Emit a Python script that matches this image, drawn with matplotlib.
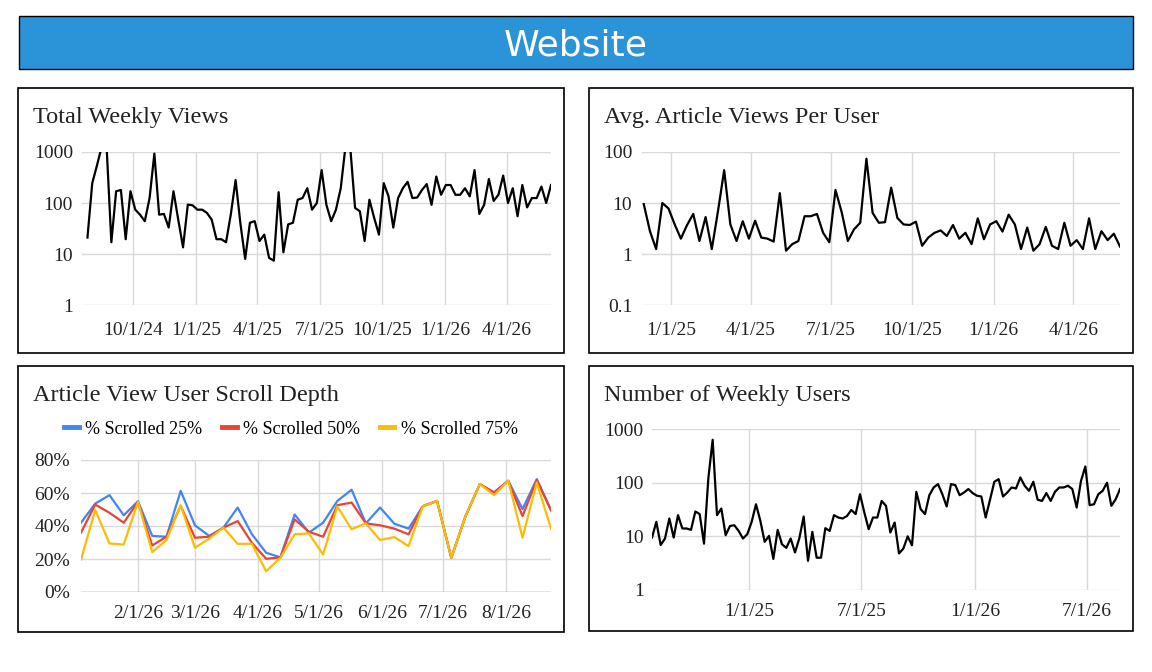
import pandas as pd
import matplotlib
matplotlib.use("Agg")
from matplotlib import pyplot as plt
from matplotlib.patches import Rectangle
from matplotlib.lines import Line2D

# weekly series
views = [21, 245, 550, 1300, 1300, 17, 170, 180, 19.5, 170, 74, 59, 44, 125, 930,
         59, 61, 33, 170, 47, 13.5, 93, 90, 74, 74, 64, 47, 19.5, 19.5, 17, 60,
         282, 40, 8, 41, 44, 18, 24, 8.4, 7.4, 163, 10.8, 38, 41, 116, 125, 195,
         74, 100, 442, 92, 44, 74, 195, 1300, 1200, 80, 69, 18, 116, 51, 24, 245,
         135, 33, 125, 195, 260, 125, 128, 180, 235, 92, 330, 145, 225, 225, 145,
         145, 195, 135, 442, 61, 92, 295, 110, 145, 345, 100, 195, 55, 225, 82,
         125, 125, 210, 100, 225]
views_start = "2024-07-26"

per_user = [9.5, 2.8, 1.25, 10, 7.8, 3.8, 2.0, 3.7, 6.1, 1.8, 5.3, 1.25, 6.9, 44,
            3.8, 1.8, 4.4, 2.0, 4.5, 2.1, 2.0, 1.75, 15.6, 1.16, 1.56, 1.8, 5.5,
            5.5, 6.1, 2.6, 1.7, 18, 6.6, 1.8, 3.05, 4.1, 74, 6.4, 4.1, 4.2, 20,
            5.1, 3.8, 3.7, 4.3, 1.45, 2.1, 2.6, 2.9, 2.26, 3.7, 2.0, 2.6, 1.56,
            5.0, 1.95, 3.8, 4.4, 2.75, 5.9, 3.8, 1.25, 3.3, 1.16, 1.56, 3.4, 1.45,
            1.25, 4.1, 1.45, 1.87, 1.25, 5.0, 1.25, 2.8, 1.87, 2.5, 1.4]
per_user_start = "2024-12-01"

scroll_25 = [42, 53.6, 58.7, 46.5, 55, 34, 33.5, 61.3, 40.4, 34, 39, 51.2, 35,
             23.8, 21, 47, 36, 42, 55.2, 62, 41.6, 51.2, 41.4, 38.4, 52, 55.2,
             20.7, 46, 65.4, 60.3, 67.4, 50.2, 68.4, 49.7]
scroll_50 = [36, 53, 48, 42, 54.6, 28.2, 33.5, 52.2, 32.9, 33.5, 39, 43, 29.8,
             20.1, 21, 44, 36.5, 33.5, 52.6, 54.2, 41.6, 40.4, 38.4, 35, 52,
             55.2, 20.7, 46, 65.4, 60.3, 67.4, 46, 68, 49.5]
scroll_75 = [19.7, 49.7, 29.4, 28.8, 54.6, 24.2, 31.5, 52.6, 26.8, 32.3, 39,
             29.2, 29.2, 12.6, 20.7, 35, 35.5, 22.7, 51.8, 38, 41.6, 31.5, 33.3,
             27.8, 52, 55.2, 20.7, 46, 65.4, 58.7, 67.4, 32.9, 66.4, 38.4]
scroll_start = "2026-01-04"
scroll_names = ["% Scrolled 25%", "% Scrolled 50%", "% Scrolled 75%"]

users = [9.5, 18.6, 6.9, 9.1, 21.5, 9.5, 24.8, 14, 14, 13.2, 29, 26, 7.3, 120,
         630, 24.8, 33, 10.5, 15.6, 16.1, 12.6, 9.1, 11, 18.6, 39.6, 19.5, 7.9,
         10.2, 3.8, 13.2, 7.1, 6.1, 9.1, 5, 9.2, 23.4, 3.5, 12.1, 4, 4, 14.2,
         12.6, 24.8, 22.4, 21.5, 23.9, 31, 26, 61, 27.8, 13.6, 22.4, 22.4, 45.7,
         37, 11.8, 18.1, 4.8, 5.9, 10, 6.8, 67.5, 32, 26, 58.4, 81.4, 94, 61, 36,
         94, 90, 58.4, 65.6, 76, 64, 57, 55.2, 22.4, 48, 104, 116, 55.2, 65.6,
         81.4, 77.8, 125, 87.6, 70.5, 104, 48, 45.7, 64, 45.7, 67.5, 81.4, 81.4,
         87.6, 76, 34.4, 108, 200, 38, 39.6, 61, 70.5, 100, 37, 49, 76]
users_start = "2024-07-28"

ticks_views = ["2024-10-01", "2025-01-01", "2025-04-01", "2025-07-01",
               "2025-10-01", "2026-01-01", "2026-04-01"]
ticks_per_user = ["2025-01-01", "2025-04-01", "2025-07-01", "2025-10-01",
                  "2026-01-01", "2026-04-01"]
ticks_scroll = ["2026-02-01", "2026-03-01", "2026-04-01", "2026-05-01",
                "2026-06-01", "2026-07-01", "2026-08-01"]
ticks_users = ["2025-01-01", "2025-07-01", "2026-01-01", "2026-07-01"]

W, H = 1152, 672
SERIF = "Liberation Serif"
GRID = "#d9d9d9"
TXT = "#222222"


def rect(l, t, r, b):
    return [l / W, 1 - b / H, (r - l) / W, (b - t) / H]


def weeks(start, n):
    return pd.date_range(start, periods=n, freq="7D")


def short_date(s):
    d = pd.Timestamp(s)
    return f"{d.month}/{d.day}/{d.year % 100}"


def box(fig, l, t, r, b, **kw):
    fig.add_artist(Rectangle((l / W, 1 - b / H), (r - l) / W, (b - t) / H,
                             transform=fig.transFigure, **kw))


def style_axes(ax, xticks, xpad, ypad):
    for s in ax.spines.values():
        s.set_visible(False)
    ax.set_xticks(pd.to_datetime(xticks))
    ax.set_xticklabels([short_date(t) for t in xticks])
    ax.grid(True, color=GRID, lw=1)
    ax.set_axisbelow(True)
    ax.tick_params(axis="x", length=0, pad=xpad, labelsize=14, labelcolor=TXT)
    ax.tick_params(axis="y", length=0, pad=ypad, labelsize=14, labelcolor=TXT)
    ax.tick_params(which="minor", length=0)
    for lab in ax.get_xticklabels() + ax.get_yticklabels():
        lab.set_fontfamily(SERIF)


def log_axes(ax, ticks):
    ax.set_yscale("log")
    ax.set_yticks(ticks)
    ax.set_yticklabels([f"{t:g}" for t in ticks])
    ax.yaxis.set_minor_locator(matplotlib.ticker.NullLocator())
    ax.set_ylim(ticks[0], ticks[-1])


fig = plt.figure(figsize=(W / 100, H / 100), dpi=100)
fig.patch.set_facecolor("white")

# banner
box(fig, 19, 16, 1133, 69, facecolor="#2B93D8", edgecolor="black", lw=1)
fig.text(576 / W, 1 - 56 / H, "Website", color="white", fontsize=26,
         family="DejaVu Sans", ha="center", va="baseline")

# panel frames and titles
panels = [(18, 88, 564, 353, "Total Weekly Views"),
          (589, 88, 1133, 353, "Avg. Article Views Per User"),
          (18, 366, 564, 632, "Article View User Scroll Depth"),
          (589, 366, 1133, 631, "Number of Weekly Users")]
for l, t, r, b, title in panels:
    box(fig, l, t, r, b, fill=False, edgecolor="black", lw=1.2)
    fig.text((l + 15) / W, 1 - (t + 29) / H, title, fontsize=17.5,
             family=SERIF, color=TXT, ha="left", va="center")

# Total Weekly Views
ax1 = fig.add_axes(rect(82, 152, 551, 305))
d1 = weeks(views_start, len(views))
ax1.plot(d1, views, color="black", lw=1.6)
log_axes(ax1, [1, 10, 100, 1000])
ax1.set_xlim(d1[0] - pd.Timedelta(days=8), d1[-1])
style_axes(ax1, ticks_views, 12, 6.5)

# Avg. Article Views Per User
ax2 = fig.add_axes(rect(642, 152, 1120, 305))
ax2.plot(weeks(per_user_start, len(per_user)), per_user, color="black", lw=1.6)
log_axes(ax2, [0.1, 1, 10, 100])
ax2.set_xlim(pd.Timestamp("2024-11-29"), pd.Timestamp("2026-05-24"))
style_axes(ax2, ticks_per_user, 12, 7)

# Article View User Scroll Depth
ax3 = fig.add_axes(rect(81, 460, 551, 592))
d3 = weeks(scroll_start, len(scroll_25))
colors = ["#4285F4", "#EA4335", "#FBBC04"]
handles = []
for vals, c, name in zip([scroll_25, scroll_50, scroll_75], colors, scroll_names):
    ax3.plot(d3, [v / 100 for v in vals], color=c, lw=1.6)
    handles.append(Line2D([], [], color=c, lw=3.5, label=name))
ax3.set_ylim(0, 0.8)
ax3.set_yticks([0, 0.2, 0.4, 0.6, 0.8])
ax3.set_yticklabels(["0%", "20%", "40%", "60%", "80%"])
ax3.set_xlim(d3[0], d3[-1])
style_axes(ax3, ticks_scroll, 9.5, 8)
ax3.axhline(0, color="#999999", lw=1)
fig.legend(handles=handles, loc="center", bbox_to_anchor=(291 / W, 1 - 429 / H),
           ncol=3, frameon=False, handlelength=0.8, handletextpad=0.35,
           columnspacing=1.1, prop={"family": SERIF, "size": 13})

# Number of Weekly Users
ax4 = fig.add_axes(rect(652, 429, 1120, 590))
d4 = weeks(users_start, len(users))
ax4.plot(d4, users, color="black", lw=1.6)
log_axes(ax4, [1, 10, 100, 1000])
ax4.set_xlim(d4[0], d4[-1])
style_axes(ax4, ticks_users, 9.5, 6)

fig.savefig("out.png", dpi=100)
